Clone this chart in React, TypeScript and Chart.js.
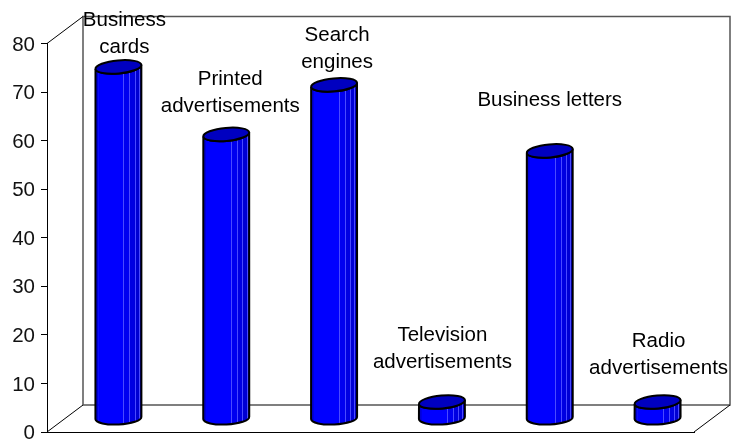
import { useEffect, useRef } from "react";
import { Chart, registerables } from "chart.js";

Chart.register(...registerables);

const categories: string[][] = [
  ["Business", "cards"],
  ["Printed", "advertisements"],
  ["Search", "engines"],
  ["Television", "advertisements"],
  ["Business letters"],
  ["Radio", "advertisements"],
];
const values: number[] = [72.4, 58.5, 68.7, 3.4, 55.1, 3.4];
const yTicks: number[] = [0, 10, 20, 30, 40, 50, 60, 70, 80];

// Centre of the last text line of each caption, measured from the top of its bar.
const captionShift: [number, number][] = [
  [6, -20],
  [4, -28],
  [3, -22.5],
  [0.5, -40],
  [0, -51],
  [1, -34],
];

const FONT = '20.5px "Liberation Sans", Arial, sans-serif';
const DEPTH_X = 36;
const DEPTH_Y = -27;

// Facets of the cylinder side: start as a fraction of the width, and fill.
const facets: [number, string][] = [
  [0, "#0000d8"],
  [0.06, "#0000ff"],
  [0.61, "#0000f0"],
  [0.74, "#0000e2"],
  [0.85, "#0000d4"],
  [0.94, "#0000c4"],
];

const cylinders = {
  id: "cylinders",
  beforeDatasetsDraw(chart: any) {
    const { ctx, chartArea: a } = chart;
    ctx.save();
    // Back wall and the floor and side edges running into the depth.
    ctx.strokeStyle = "#555";
    ctx.lineWidth = 1.5;
    ctx.strokeRect(a.left + DEPTH_X, a.top + DEPTH_Y, a.right - a.left, a.bottom - a.top);
    ctx.strokeStyle = "#000";
    ctx.lineWidth = 1;
    ctx.beginPath();
    ctx.moveTo(a.left, a.top);
    ctx.lineTo(a.left + DEPTH_X, a.top + DEPTH_Y);
    ctx.moveTo(a.left, a.bottom);
    ctx.lineTo(a.left + DEPTH_X, a.bottom + DEPTH_Y);
    ctx.moveTo(a.right, a.bottom);
    ctx.lineTo(a.right + DEPTH_X, a.bottom + DEPTH_Y);
    ctx.stroke();
    ctx.restore();
  },
  afterDatasetsDraw(chart: any) {
    const { ctx } = chart;
    const bars = chart.getDatasetMeta(0).data;
    bars.forEach((bar: any, i: number) => {
      // Bars stand halfway into the depth of the floor.
      const cx = bar.x + DEPTH_X / 2 - 0.5;
      const top = bar.y + DEPTH_Y / 2;
      const bottom = bar.base + DEPTH_Y / 2;
      const rx = bar.width / 2;
      const ry = 6.5;
      const tilt = -0.09;
      const side = () => {
        ctx.beginPath();
        ctx.ellipse(cx, top, rx, ry, tilt, Math.PI, 0, true);
        ctx.ellipse(cx, bottom, rx, ry, -0.05, 0, Math.PI, false);
        ctx.closePath();
      };
      ctx.save();
      side();
      ctx.save();
      ctx.clip();
      const left = cx - rx;
      facets.forEach(([from, fill], k) => {
        const next = k + 1 < facets.length ? facets[k + 1][0] : 1;
        ctx.fillStyle = fill;
        ctx.fillRect(left + from * bar.width, top - ry - 2, (next - from) * bar.width + 0.5, bottom - top + 2 * ry + 4);
      });
      ctx.strokeStyle = "#4a4aff";
      ctx.lineWidth = 1;
      facets.slice(2).forEach(([from]) => {
        const x = Math.round(left + from * bar.width) + 0.5;
        ctx.beginPath();
        ctx.moveTo(x, top - ry - 2);
        ctx.lineTo(x, bottom + ry + 2);
        ctx.stroke();
      });
      ctx.restore();
      ctx.strokeStyle = "#000";
      ctx.lineWidth = 2;
      side();
      ctx.stroke();
      ctx.beginPath();
      ctx.ellipse(cx, top, rx, ry, tilt, 0, Math.PI * 2);
      ctx.fillStyle = "#0000c0";
      ctx.fill();
      ctx.stroke();
      ctx.restore();

      // Caption above the bar.
      const lines = categories[i];
      const [sx, sy] = captionShift[i];
      ctx.save();
      ctx.font = FONT;
      ctx.fillStyle = "#000";
      ctx.textAlign = "center";
      ctx.textBaseline = "middle";
      lines.forEach((line, k) => {
        ctx.fillText(line, cx + sx, top + sy - (lines.length - 1 - k) * 27);
      });
      ctx.restore();
    });
  },
};

export default function App() {
  const ref = useRef<HTMLCanvasElement>(null);
  useEffect(() => {
    const chart = new Chart(ref.current!, {
      type: "bar",
      data: {
        labels: categories.map((c) => c.join(" ")),
        datasets: [
          {
            data: values,
            backgroundColor: "transparent",
            borderWidth: 0,
            barPercentage: 0.427,
            categoryPercentage: 1,
          },
        ],
      },
      plugins: [cylinders],
      options: {
        animation: false,
        responsive: false,
        layout: { padding: { top: 43.5, right: 39, bottom: 8, left: 0 } },
        plugins: { legend: { display: false }, tooltip: { enabled: false } },
        scales: {
          x: {
            ticks: { display: false },
            grid: { display: false, drawTicks: false },
            border: { display: true, color: "#000", width: 1 },
          },
          y: {
            min: 0,
            max: 80,
            afterBuildTicks: (scale: any) => {
              scale.ticks = yTicks.map((value) => ({ value }));
            },
            afterFit: (scale: any) => {
              scale.width = 47;
              scale.paddingTop = 0;
              scale.paddingBottom = 0;
            },
            ticks: {
              color: "#111",
              padding: 6,
              labelOffset: 1.5,
              font: { family: '"Liberation Sans", Arial, sans-serif', size: 20.5 },
            },
            grid: { drawOnChartArea: false, drawTicks: true, tickLength: 6, color: "#000" },
            border: { display: true, color: "#000", width: 1 },
          },
        },
      },
    });
    return () => chart.destroy();
  }, []);
  return (
    <div style={{ position: "fixed", left: 0, top: 0, background: "#fff" }}>
      <canvas ref={ref} width={733} height={440} style={{ display: "block" }} />
    </div>
  );
}
